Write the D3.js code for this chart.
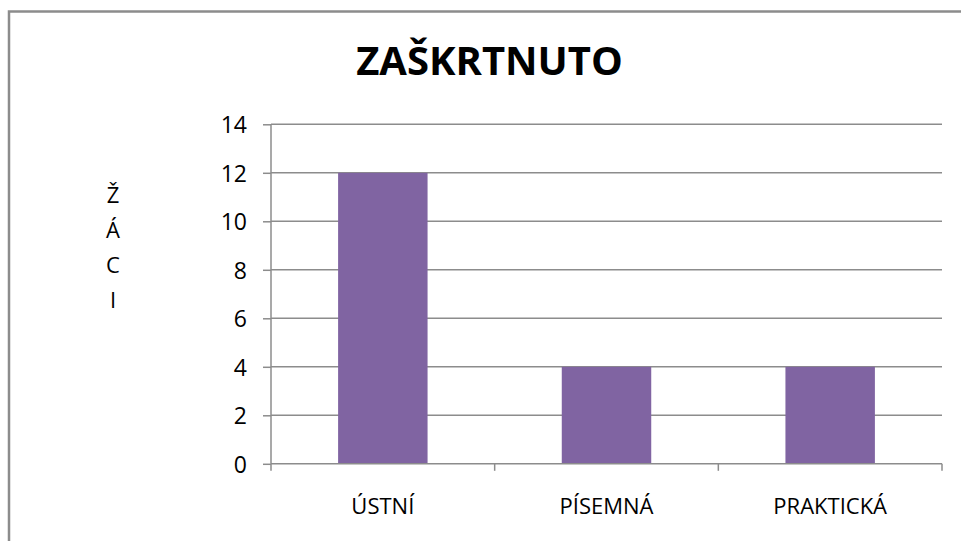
<!DOCTYPE html>
<html><head><meta charset="utf-8">
<script src="https://cdn.jsdelivr.net/npm/d3@7"></script>
<style>html,body{margin:0;padding:0;background:#fff;}svg{display:block;}</style>
</head><body>
<script>
const categories = ["ÚSTNÍ", "PÍSEMNÁ", "PRAKTICKÁ"];
const values = [12, 4, 4];
const yTicks = [0, 2, 4, 6, 8, 10, 12, 14];
const title = "ZAŠKRTNUTO";
const yLabel = ["Ž", "Á", "C", "I"];

const W = 961, H = 541;
const svg = d3.select("body").append("svg").attr("width", W).attr("height", H);
const font = "'Open Sans', 'DejaVu Sans', sans-serif";
const gridColor = "#8c8c8c";

svg.append("rect").attr("x", 9).attr("y", 11.5).attr("width", W + 20).attr("height", H + 20)
  .attr("fill", "#fff").attr("stroke", gridColor).attr("stroke-width", 2.5);

const pL = 271, pR = 942, pT = 124.3, pB = 463.8;
const x = d3.scaleBand().domain(categories).range([pL, pR]).paddingInner(0.6).paddingOuter(0.3);
const y = d3.scaleLinear().domain([0, 14]).range([pB, pT]);

// gridlines
svg.append("g").selectAll("line").data(yTicks.filter(d => d > 0)).join("line")
  .attr("x1", pL).attr("x2", pR).attr("y1", d => y(d)).attr("y2", d => y(d))
  .attr("stroke", gridColor).attr("stroke-width", 1.5);

// bars
svg.append("g").selectAll("rect").data(values).join("rect")
  .attr("x", (d, i) => x(categories[i])).attr("width", x.bandwidth())
  .attr("y", d => y(d)).attr("height", d => y(0) - y(d))
  .attr("fill", "#8064A2");

// y axis
const yAxis = svg.append("g").attr("transform", `translate(${pL},0)`)
  .call(d3.axisLeft(y).tickValues(yTicks).tickSize(8).tickPadding(16).tickFormat(d3.format("d")));
yAxis.attr("font-size", null).attr("font-family", null);
yAxis.select(".domain").attr("stroke", gridColor).attr("stroke-width", 1.5).attr("d", `M0,${pT}V${pB}`);
yAxis.selectAll(".tick line").attr("stroke", gridColor).attr("stroke-width", 1.5);
yAxis.selectAll(".tick text").style("font-family", font).style("font-size", "23px").attr("fill", "#000").attr("dy", "0.36em");

// x axis
const xAxis = svg.append("g").attr("transform", `translate(0,${pB})`)
  .call(d3.axisBottom(x).tickSize(0).tickPadding(35));
xAxis.attr("font-size", null).attr("font-family", null);
xAxis.select(".domain").attr("stroke", gridColor).attr("stroke-width", 1.5).attr("d", `M${pL},0H${pR}`);
xAxis.selectAll(".tick text").style("font-family", font).style("font-size", "22px").attr("fill", "#000");
const bounds = d3.range(categories.length + 1).map(i => pL + i * (pR - pL) / categories.length);
xAxis.append("g").selectAll("line").data(bounds).join("line")
  .attr("x1", d => d).attr("x2", d => d).attr("y1", 0).attr("y2", 7)
  .attr("stroke", gridColor).attr("stroke-width", 1.5);

// title
svg.append("text").attr("x", 489.5).attr("y", 75).attr("text-anchor", "middle")
  .style("font-family", font).style("font-weight", "bold").style("font-size", "40px").attr("fill", "#000")
  .text(title);

// y label (stacked letters)
svg.append("g").selectAll("text").data(yLabel).join("text")
  .attr("x", 113).attr("y", (d, i) => 203 + i * 35).attr("text-anchor", "middle")
  .style("font-family", font).style("font-size", "22px").attr("fill", "#000").text(d => d);
</script>
</body></html>
